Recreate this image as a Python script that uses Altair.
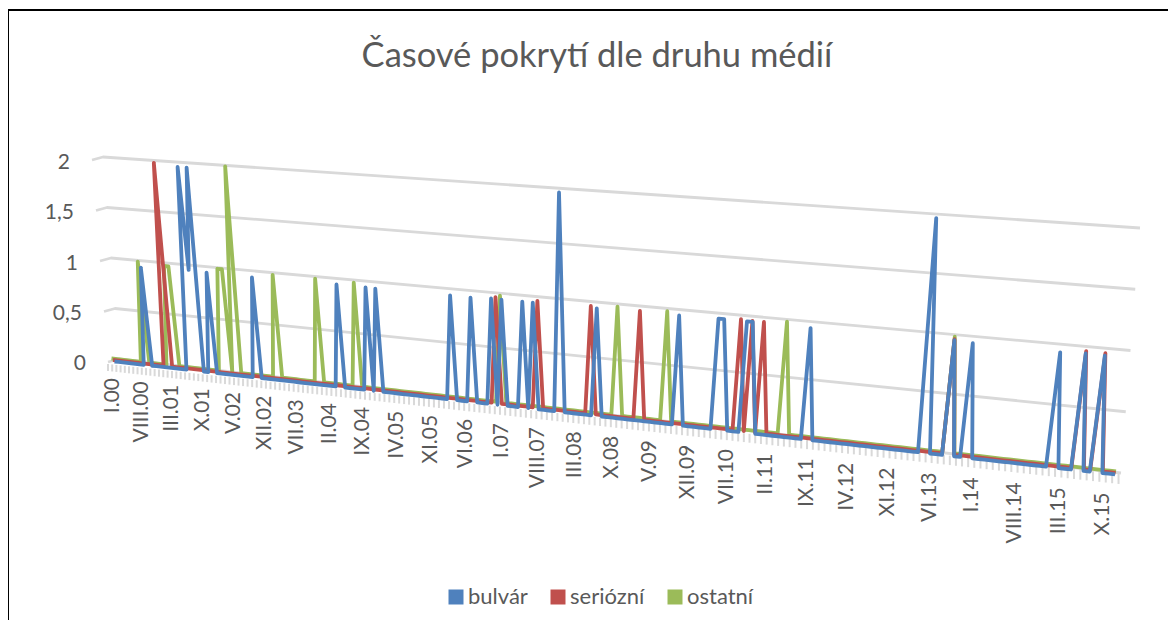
import altair as alt
import pandas as pd

# ---- values -----------------------------------------------------------------
title_text = "Časové pokrytí dle druhu médií"
series_names = ["bulvár", "seriózní", "ostatní"]
series_colors = ["#4f81bd", "#c0504d", "#9bbb59"]
n_months = 192  # I.00 ... XII.15

bulvar_months = [8, 18, 19, 20, 23, 33, 51, 57, 59, 74, 78, 82, 84, 88, 90, 95, 102, 117,
                 124, 125, 129, 130, 140, 160, 164, 167, 181, 185, 188]
bulvar_values = [0.96, 1.98, 0.98, 1.98, 0.97, 0.963, 0.97, 0.966, 0.964, 0.964, 0.961, 0.97,
                 0.969, 0.968, 0.967, 1.987, 0.967, 0.971, 0.975, 0.975, 0.974, 0.974, 0.966,
                 1.99, 0.974, 0.963, 0.953, 0.963, 0.96]

seriozni_months = [13, 83, 91, 101, 110, 128, 130, 132, 164, 185, 188]
seriozni_values = [1.99, 0.974, 0.973, 0.971, 0.967, 0.976, 0.969, 0.969, 0.97, 0.97, 0.967]

ostatni_months = [8, 14, 15, 26, 27, 29, 38, 47, 55, 84, 106, 115, 136, 164]
ostatni_values = [0.99, 0.97, 0.97, 0.99, 0.99, 1.99, 0.98, 0.98, 0.976, 0.978, 0.975, 0.973,
                  0.978, 0.978]

axis_labels = ["I.00", "VIII.00", "III.01", "X.01", "V.02", "XII.02", "VII.03", "II.04", "IX.04",
               "IV.05", "XI.05", "VI.06", "I.07", "VIII.07", "III.08", "X.08", "V.09", "XII.09",
               "VII.10", "II.11", "IX.11", "IV.12", "XI.12", "VI.13", "I.14", "VIII.14",
               "III.15", "X.15"]
label_step = 7
grid_values = [0, 0.5, 1, 1.5, 2]
grid_labels = ["0", "0,5", "1", "1,5", "2"]

# ---- tables -----------------------------------------------------------------
def expand(months, values):
    lookup = dict(zip(months, values))
    return [lookup.get(m, 0.0) for m in range(n_months)]

rows = []
# drawing order: green at the back, blue in front
for name, depth, months, values in [
    ("ostatní", -1, ostatni_months, ostatni_values),
    ("seriózní", 0, seriozni_months, seriozni_values),
    ("bulvár", 1, bulvar_months, bulvar_values),
]:
    for m, v in enumerate(expand(months, values)):
        rows.append({"serie": name, "d": depth, "m": m, "v": v})
lines_df = pd.DataFrame(rows)

ticks_df = pd.DataFrame({"m": list(range(n_months))})
labels_df = pd.DataFrame({"m": [i * label_step for i in range(len(axis_labels))], "label": axis_labels})
grid_df = pd.DataFrame([{"v": v, "k": k} for v in grid_values for k in (-1, 0, 1)])
ylab_df = pd.DataFrame({"v": grid_values, "label": grid_labels})
title_df = pd.DataFrame({"label": [title_text]})
legend_df = pd.DataFrame({"serie": series_names})

# ---- oblique perspective projection of (month, value) on to the page ---------
X_M = "(113 + 4.143*datum.m + 0.00579*datum.m*datum.m)"
U = f"(({X_M} - 113)/1003)"

W, H = 1160, 612
x_scale = alt.Scale(domain=[8, 8 + W], range=[0, W], nice=False, zero=False)
y_scale = alt.Scale(domain=[8, 8 + H], range=[0, H], nice=False, zero=False)
X = lambda f: alt.X(f, type="quantitative", scale=x_scale, axis=None)
Y = lambda f: alt.Y(f, type="quantitative", scale=y_scale, axis=None)

TEXT = "#595959"
FONT = "Lato"
GRID = "#d9d9d9"

grid = (
    alt.Chart(grid_df).mark_line(color=GRID, strokeWidth=2.8, strokeJoin="round")
    .transform_calculate(
        px="datum.k < 0 ? 119 - 8*datum.v - 11 : datum.k == 0 ? 119 - 8*datum.v : 1121 + 9.5*datum.v",
        py="datum.k < 0 ? 359 - 101*datum.v + 3 : datum.k == 0 ? 359 - 101*datum.v : 473 - 122.5*datum.v",
    )
    .encode(x=X("px"), y=Y("py"), detail="v:N", order="k:Q")
)

ticks = (
    alt.Chart(ticks_df).mark_rule(color=GRID, strokeWidth=2)
    .transform_calculate(
        px=f"108 + 1011*{U}", y1=f"364 + 110*{U}", y2=f"371 + 113*{U}"
    )
    .encode(x=X("px"), y=Y("y1"), y2="y2:Q")
)

lines = (
    alt.Chart(lines_df).mark_line(strokeWidth=3.8, strokeJoin="round", strokeCap="butt")
    .transform_calculate(
        u=U,
        px=f"{X_M} + datum.d*(1.5 - 2*datum.u) + datum.v*(-8 + 17.5*datum.u)",
        py="360 + 113*datum.u + 1.5*datum.d - datum.v*(101 + 21*datum.u)",
    )
    .encode(
        x=X("px"), y=Y("py"), order="m:Q", detail="serie:N",
        color=alt.Color("serie:N", legend=None,
                        scale=alt.Scale(domain=series_names, range=series_colors)),
    )
)

tick_labels = (
    alt.Chart(labels_df).mark_text(angle=270, align="right", baseline="middle",
                                   font=FONT, fontSize=21, color=TEXT)
    .transform_calculate(px=X_M, py=f"378 + 116*{U}")
    .encode(x=X("px"), y=Y("py"), text="label:N")
)

y_labels = (
    alt.Chart(ylab_df).mark_text(align="right", baseline="middle", font=FONT, fontSize=21, color=TEXT)
    .transform_calculate(px="86 - 8*datum.v", py="364 - 100.5*datum.v")
    .encode(x=X("px"), y=Y("py"), text="label:N")
)

title = (
    alt.Chart(title_df).mark_text(align="center", baseline="middle", font=FONT, fontSize=34.5, color=TEXT)
    .encode(x=alt.value(589), y=alt.value(49), text="label:N")
)

frame_top = alt.Chart(title_df).mark_rule(color="#000000", strokeWidth=2).encode(
    x=alt.value(0), x2=alt.value(W), y=alt.value(2)
)
frame_left = alt.Chart(title_df).mark_rule(color="#000000", strokeWidth=2).encode(
    x=alt.value(0), y=alt.value(2), y2=alt.value(H)
)

# the legend comes from a square layer kept outside the plot, so its keys are filled squares
legend_layer = (
    alt.Chart(legend_df).mark_square(size=1, opacity=1, clip=True)
    .encode(
        x=alt.value(-50), y=alt.value(-50),
        color=alt.Color(
            "serie:N",
            scale=alt.Scale(domain=series_names, range=series_colors),
            legend=alt.Legend(
                title=None, orient="none", direction="horizontal", symbolType="square",
                legendX=437, legendY=578, symbolSize=225, symbolStrokeWidth=0,
                labelFont=FONT, labelFontSize=22, labelColor=TEXT, columnPadding=19,
                labelOffset=1,
            ),
        ),
    )
)

chart = (
    alt.layer(grid, ticks, lines, tick_labels, y_labels, title, frame_top, frame_left, legend_layer)
    .resolve_scale(color="independent")
    .properties(width=W, height=H, padding=0, autosize=alt.AutoSizeParams(type="none"),
                background="#ffffff")
    .configure_view(stroke=None)
)

chart.save("out.html", embed_options={"renderer": "svg", "actions": False})
